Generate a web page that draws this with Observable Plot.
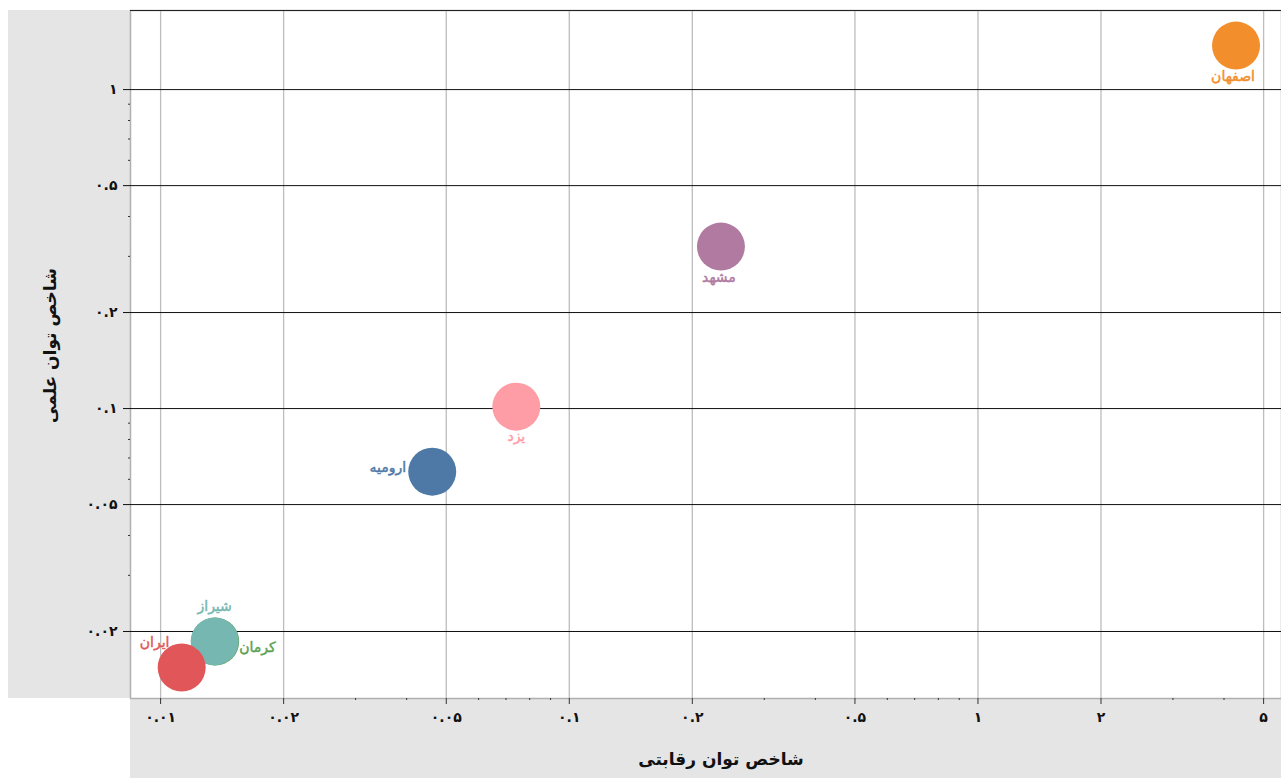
<!DOCTYPE html>
<html>
<head>
<meta charset="utf-8">
<script src="https://cdn.jsdelivr.net/npm/d3@7"></script>
<script src="https://cdn.jsdelivr.net/npm/@observablehq/plot@0.6"></script>
<style>
  body { margin: 0; background: white; }
  #chart svg { display: block; }
</style>
</head>
<body>
<div id="chart"></div>
<script>
// ---- data ----
const cities = ["اصفهان", "مشهد", "یزد", "ارومیه", "کرمان", "شیراز", "ایران"];
const competitiveIndex = [4.28, 0.235, 0.0742, 0.0462, 0.0136, 0.01356, 0.01126];
const scientificIndex = [1.374, 0.322, 0.1014, 0.0634, 0.0186, 0.01862, 0.01542];
const cityColors = ["#f28e2b", "#b07aa1", "#ff9da7", "#4e79a7", "#59a14f", "#76b7b2", "#e15759"];

const xTicks = [0.01, 0.02, 0.05, 0.1, 0.2, 0.5, 1, 2, 5];
const xMinorTicks = [0.03, 0.04, 0.06, 0.07, 0.08, 0.09, 0.3, 0.4, 0.6, 0.7, 0.8, 0.9, 3, 4];
const yTicks = [0.02, 0.05, 0.1, 0.2, 0.5, 1];
const yMinorTicks = [0.03, 0.04, 0.06, 0.07, 0.08, 0.09, 0.3, 0.4, 0.6, 0.7, 0.8, 0.9];

const xTitle = "شاخص توان رقابتی";
const yTitle = "شاخص توان علمی";

// label placement (layout only)
const labelPlacement = {
  "اصفهان": {dx: -3, dy: 31, anchor: "middle"},
  "مشهد": {dx: -2, dy: 31, anchor: "middle"},
  "یزد": {dx: 0, dy: 30, anchor: "middle"},
  "ارومیه": {dx: -26, dy: -4, anchor: "end"},
  "کرمان": {dx: 24, dy: 6, anchor: "start"},
  "شیراز": {dx: 0, dy: -35, anchor: "middle"},
  "ایران": {dx: -27, dy: -25, anchor: "middle"}
};

const rows = cities.map((c, i) => ({city: c, x: competitiveIndex[i], y: scientificIndex[i]}));
const faDigits = "۰۱۲۳۴۵۶۷۸۹";
const fa = v => String(v).replace(/\d/g, d => faDigits[d]);

const labelMarks = rows.map(r => {
  const p = labelPlacement[r.city];
  return Plot.text([r], {x: "x", y: "y", text: "city", fill: "city", stroke: "city", strokeWidth: 0.45,
    dx: p.dx, dy: p.dy, textAnchor: p.anchor, fontSize: 14, fontWeight: "normal"});
});

const chart = Plot.plot({
  width: 1281,
  height: 778,
  marginLeft: 130,
  marginRight: 0,
  marginTop: 10,
  marginBottom: 80,
  style: {fontFamily: "DejaVu Sans", background: "transparent"},
  x: {type: "log", domain: [0.00844, 5.53]},
  y: {type: "log", domain: [0.01233, 1.77]},
  color: {domain: cities, range: cityColors},
  marks: [
    Plot.frame({fill: "white", stroke: "#b0b0b0", strokeWidth: 1.5}),
    Plot.ruleX(xTicks, {stroke: "#bdbdbd", strokeWidth: 1.3}),
    Plot.ruleY(yTicks, {stroke: "#111", strokeWidth: 1}),
    Plot.dot(rows, {x: "x", y: "y", r: 24, fill: "city", stroke: null}),
    ...labelMarks,
    Plot.axisX(xTicks, {tickSize: 6, tickPadding: 8, tickFormat: fa, fontSize: 14, fontWeight: "bold",
      stroke: "#333", fill: "#111", label: null}),
    Plot.axisX(xMinorTicks, {tickSize: 2, tickFormat: () => "", stroke: "#333", label: null}),
    Plot.axisY(yTicks, {tickSize: 7, tickPadding: 6, tickFormat: fa, fontSize: 14, fontWeight: "bold",
      stroke: "#111", fill: "#111", label: null}),
    Plot.axisY(yMinorTicks, {tickSize: 2, tickFormat: () => "", stroke: "#333", label: null}),
    Plot.text([xTitle], {frameAnchor: "bottom", dx: 15, dy: 66, fontSize: 17, fontWeight: "bold", fill: "#111"}),
    Plot.text([yTitle], {frameAnchor: "left", textAnchor: "middle", dx: -80, dy: -9, rotate: -90, fontSize: 17, fontWeight: "bold", fill: "#111"})
  ]
});

// gray axis panels and black top border (decoration)
const svg = d3.select(chart);
const first = chart.firstChild;
svg.insert("rect", () => first).attr("x", 8).attr("y", 10).attr("width", 122).attr("height", 688).attr("fill", "#e5e5e5");
svg.insert("rect", () => first).attr("x", 130).attr("y", 698).attr("width", 1151).attr("height", 80).attr("fill", "#e5e5e5");
svg.append("line").attr("x1", 130).attr("x2", 1281).attr("y1", 10.5).attr("y2", 10.5).attr("stroke", "#222").attr("stroke-width", 1.2);

document.getElementById("chart").append(chart);
</script>
</body>
</html>
